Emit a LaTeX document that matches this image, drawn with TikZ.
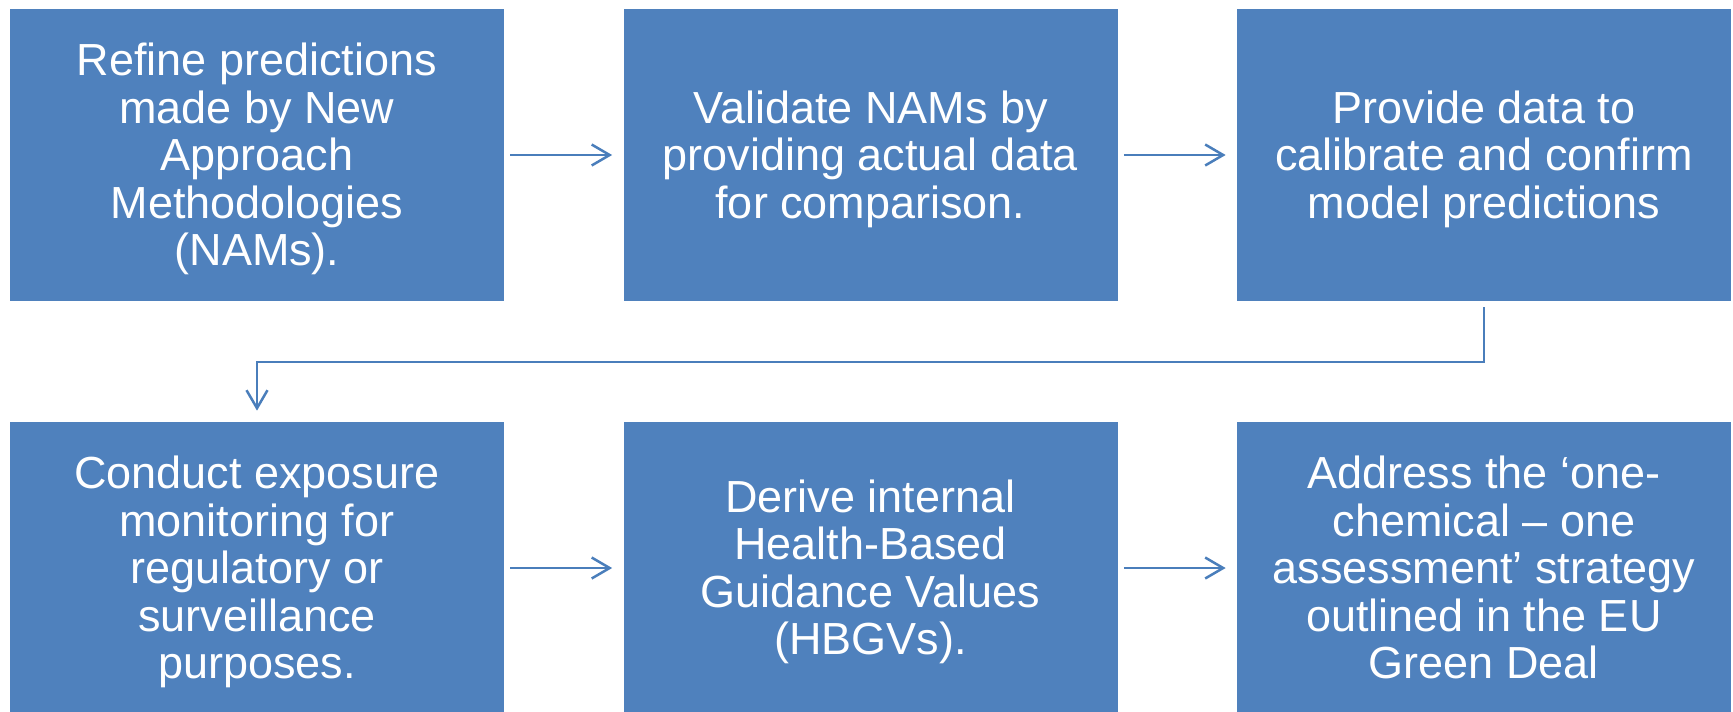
\documentclass[tikz,border=0pt]{standalone}
\usepackage{xcolor}
\usepackage{fontspec}
\setmainfont{Liberation Sans}
\usepackage{tikz}
\usetikzlibrary{arrows.meta}
\definecolor{boxblue}{HTML}{4F81BD}
\definecolor{arrowblue}{HTML}{4A7EBB}
\newcommand{\topstrut}{\rule{0pt}{0.905em}}

\begin{document}
\begin{tikzpicture}[
        stepbox/.style={fill=boxblue, text=white, minimum width=9.88cm, minimum height=5.84cm,
                        align=center, inner sep=0pt, font=\fontsize{25.6}{27}\selectfont,
                        execute at end node={\rule[-0.212em]{0pt}{0pt}}},
        flow/.style={line width=0.05cm, color=arrowblue, shorten <=0.12cm, shorten >=0.22cm,
                     -{Straight Barb[length=0.36cm, width=0.42cm]}}
    ]
                \useasboundingbox (0, 0) rectangle (34.66, -14.22);
                \node[stepbox] (refine) at (5.14, -3.10) {\topstrut Refine predictions\\made by New\\Approach\\Methodologies\\(NAMs).};
                \node[stepbox] (validate) at (17.41, -3.10) {\topstrut Validate NAMs by\\providing actual data\\for comparison.};
                \node[stepbox] (provide) at (29.68, -3.10) {\topstrut Provide data to\\calibrate and confirm\\model predictions};
                \node[stepbox] (conduct) at (5.14, -11.36) {\topstrut Conduct exposure\\monitoring for\\regulatory or\\surveillance\\purposes.};
                \node[stepbox] (derive) at (17.41, -11.36) {\topstrut Derive internal\\Health-Based\\Guidance Values\\(HBGVs).};
                \node[stepbox] (address) at (29.68, -11.36) {\topstrut Address the ‘one-\\chemical – one\\assessment’ strategy\\outlined in the EU\\Green Deal};
                \coordinate (turn) at (29.68, -7.24);
                \draw[flow] (refine) -- (validate);
                \draw[flow] (validate) -- (provide);
                \draw[flow] (provide.south) -- (turn) -| (conduct.north);
                \draw[flow] (conduct) -- (derive);
                \draw[flow] (derive) -- (address);
            \end{tikzpicture}
\end{document}
